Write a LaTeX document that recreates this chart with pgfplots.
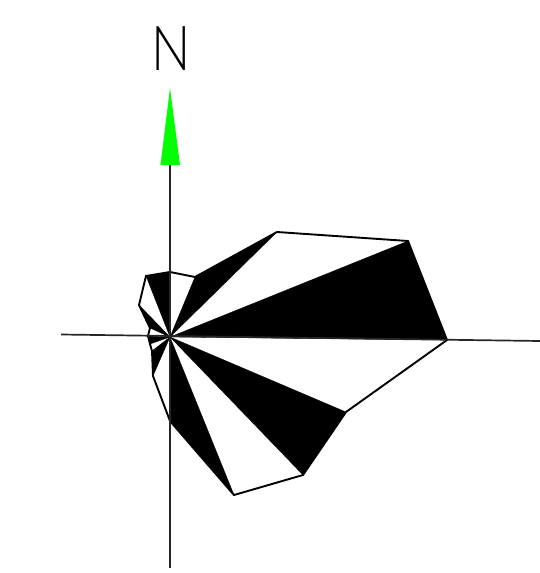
\documentclass[border=0pt]{standalone}
\usepackage{fontspec}
\setmainfont{Lato Light}
\usepackage{pgfplots}
\pgfplotsset{compat=1.18}
\definecolor{arrowgreen}{RGB}{0,255,0}
% coordinates are pixels of the reference, y runs downward
\pgfplotstableread{
x y
170 272
195 277
277 232
408 241
447 340
346 412
303 475
234 495
170 421
153 376
152 351
150 344
148 336
150 328
139 305
146 276
170 272
}\outline
\begin{document}
\begin{tikzpicture}
\begin{axis}[
    width=540pt, height=573pt,
    scale only axis,
    xmin=0, xmax=540,
    ymin=0, ymax=573,
    y dir=reverse,
    hide axis,
    clip=false,
]
\path[use as bounding box] (axis cs:0,0) rectangle (axis cs:540,573);
% black sectors
\addplot[black, fill=black, line width=0.3pt] coordinates {(170,337)(195,277)(277,232)(170,337)};
\addplot[black, fill=black, line width=0.3pt] coordinates {(170,337)(408,241)(447,340)(170,337)};
\addplot[black, fill=black, line width=0.3pt] coordinates {(170,337)(346,412)(303,475)(170,337)};
\addplot[black, fill=black, line width=0.3pt] coordinates {(170,337)(234,495)(170,421)(170,337)};
\addplot[black, fill=black, line width=0.3pt] coordinates {(170,337)(153,376)(152,351)(170,337)};
\addplot[black, fill=black, line width=0.3pt] coordinates {(170,337)(150,344)(148,336)(170,337)};
\addplot[black, fill=black, line width=0.3pt] coordinates {(170,337)(150,328)(139,305)(170,337)};
\addplot[black, fill=black, line width=0.3pt] coordinates {(170,337)(146,276)(170,272)(170,337)};
% outline
\addplot[black, line width=1.9pt, line join=miter] table {\outline};
% axes
\addplot[black!85, line width=1.7pt] coordinates {(61,334.5)(540,341)};
\addplot[black!85, line width=1.7pt] coordinates {(170,160)(170,568)};
% north arrow
\addplot[draw=none, fill=arrowgreen] coordinates {(170,88)(180,165)(160.5,165)(170,88)};
\node[text=black, font=\fontsize{62}{62}\selectfont, inner sep=0pt, xscale=0.84] at (axis cs:171.5,48.5) {N};
\end{axis}
\end{tikzpicture}
\end{document}
